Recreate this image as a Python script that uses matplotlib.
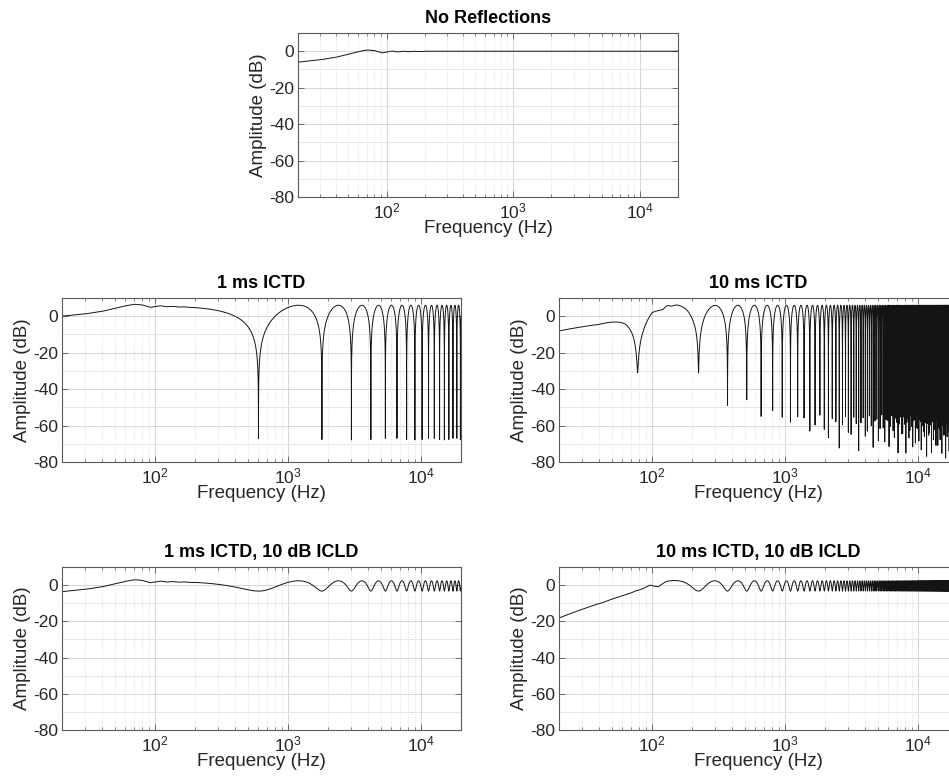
import numpy as np
import matplotlib
matplotlib.use("Agg")
import matplotlib.pyplot as plt
from matplotlib.ticker import FixedLocator, LogLocator, NullFormatter

plt.rcParams['font.family'] = ['Liberation Sans', 'DejaVu Sans']
plt.rcParams['mathtext.fontset'] = 'custom'
plt.rcParams['mathtext.rm'] = 'Liberation Sans'
plt.rcParams['axes.unicode_minus'] = False

# FFT bin grid of the analysis
FS = 48000
NFFT = 2 ** 19
F_LO, F_HI = 20, 20000

# smooth part of each response (dB at hand-picked frequencies)
DIRECT_HZ = [20, 30, 40, 50, 60, 70, 80, 92, 100, 110, 122, 135, 150, 165, 185, 200, 300, 20000]
DIRECT_DB = [-6.0, -4.7, -3.3, -1.6, -0.2, 0.7, 0.4, -0.9, -0.5, 0.1, -0.4, 0.0, -0.3, 0.0, -0.2, 0.0, 0.0, 0.0]

LONG_HZ = [20, 30, 40, 54, 64, 72, 85, 100, 110, 120, 130, 140, 153, 182, 203, 300, 20000]
LONG_DB = [-13.5, -10.4, -7.7, -3.0, 0.0, 1.0, 1.2, 2.8, 1.0, -0.3, 0.9, -0.2, 0.3, -0.2, -1.0, 0.0, 0.0]

LONG_ICLD_HZ = [20, 32, 43, 57, 76, 96, 111, 128, 153, 200, 300, 20000]
LONG_ICLD_DB = [-20.2, -13.9, -9.8, -4.9, 0.2, 1.9, -1.0, 0.4, 0.1, 0.0, 0.0, 0.0]

# level of the delayed copy relative to the direct sound (dB)
FLAT_HZ = [20, 20000]
REFL_SHORT_DB = [-0.0035, -0.0035]
REFL_ICLD_DB = [-10.0, -10.0]
REFL_LONG_HZ = [20, 78, 218, 368, 513, 660, 808, 2000, 20000]
REFL_LONG_DB = [-0.3, -0.22, -0.28, -0.028, -0.045, -0.014, -0.015, -0.002, -0.001]

# comb notches: first notch and spacing (Hz)
NOTCH_SHORT = (600.0, 1200.0)
NOTCH_LONG = (78.0, 146.0)

TITLES = ['No Reflections', '1 ms ICTD', '10 ms ICTD',
          '1 ms ICTD, 10 dB ICLD', '10 ms ICTD, 10 dB ICLD']

freq = np.arange(1, NFFT // 2) * FS / NFFT
freq = freq[(freq >= F_LO) & (freq <= F_HI)]
logf = np.log10(freq)


def smooth(hz, db):
    return np.interp(logf, np.log10(hz), db)


def response(base_hz, base_db, refl_hz=None, refl_db=None, notch=None):
    mag = smooth(base_hz, base_db)
    if refl_hz is None:
        return mag
    g = 10 ** (smooth(refl_hz, refl_db) / 20)
    first, spacing = notch
    phase = np.pi + 2 * np.pi * (freq - first) / spacing
    return mag + 20 * np.log10(np.abs(1 + g * np.exp(1j * phase)))


curves = [
    response(DIRECT_HZ, DIRECT_DB),
    response(DIRECT_HZ, DIRECT_DB, FLAT_HZ, REFL_SHORT_DB, NOTCH_SHORT),
    response(LONG_HZ, LONG_DB, REFL_LONG_HZ, REFL_LONG_DB, NOTCH_LONG),
    response(DIRECT_HZ, DIRECT_DB, FLAT_HZ, REFL_ICLD_DB, NOTCH_SHORT),
    response(LONG_ICLD_HZ, LONG_ICLD_DB, FLAT_HZ, REFL_ICLD_DB, NOTCH_LONG),
]

W, H = 949, 779
# axes boxes in pixels: left, top, right, bottom
boxes = [
    (298, 33, 678, 197),
    (62, 298, 461, 462),
    (559, 298, 958, 462),
    (62, 567, 461, 730),
    (559, 567, 958, 730),
]

fig = plt.figure(figsize=(W / 100, H / 100), dpi=100)
edge = '#595959'
text_c = '#262626'

for (l, t, r, b), mag, title in zip(boxes, curves, TITLES):
    ax = fig.add_axes([l / W, (H - b) / H, (r - l) / W, (b - t) / H])
    ax.semilogx(freq, mag, color='#141414', lw=0.7)
    ax.set_xlim(F_LO, F_HI)
    ax.set_ylim(-80, 10)
    ax.xaxis.set_major_locator(LogLocator(base=10, numticks=10))
    ax.xaxis.set_minor_locator(LogLocator(base=10, subs=np.arange(2, 10), numticks=10))
    ax.xaxis.set_minor_formatter(NullFormatter())
    ax.yaxis.set_major_locator(FixedLocator([-80, -60, -40, -20, 0]))
    ax.yaxis.set_minor_locator(FixedLocator([-70, -50, -30, -10]))

    ax.grid(True, which='major', color='#d6d6d6', lw=0.7)
    ax.grid(True, which='minor', axis='y', color='#e6e6e6', lw=0.7)
    ax.grid(True, which='minor', axis='x', color='#cfcfcf', lw=0.6, ls=(0, (1, 2)))
    ax.set_axisbelow(True)

    for s in ax.spines.values():
        s.set_color(edge)
        s.set_linewidth(0.8)
    ax.tick_params(which='both', direction='in', top=True, right=True,
                   color=edge, labelcolor=text_c, labelsize=12.5, pad=3)
    ax.tick_params(which='major', length=4, width=0.6)
    ax.tick_params(which='minor', length=2.5, width=0.5)
    ax.tick_params(axis='y', which='minor', length=0)

    ax.set_title(title, fontsize=13, fontweight='bold', color='black', pad=7)
    ax.set_xlabel('Frequency (Hz)', fontsize=13.5, color=text_c, labelpad=-1)
    ax.set_ylabel('Amplitude (dB)', fontsize=13.5, color=text_c, labelpad=1)

fig.savefig('out.png', dpi=100)
